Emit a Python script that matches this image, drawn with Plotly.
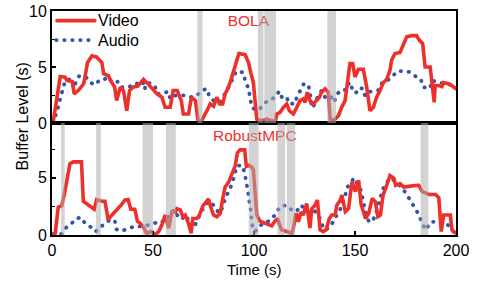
import plotly.graph_objects as go
from plotly.subplots import make_subplots

# ---------------- data ----------------
bola_video_t = [0.5, 4.1, 6.5, 7.4, 10, 11, 13, 15.7, 17.6, 19.8, 22, 24.7, 25.6, 28, 29, 31, 32, 33.8, 35.4, 37,
                38.4, 40, 42.5, 45.3, 47, 50, 52, 54.4, 56, 58.5, 60, 62, 64, 65, 67.6, 69, 71, 72.5, 73.4, 76.7,
                78.3, 80, 81.6, 83, 84.5, 85.7, 87.4, 89, 90.7, 92.5, 95.6, 97.3, 98.4, 99.7, 100.5, 101.4, 103.8,
                106.3, 108.8, 110.4, 111.3, 112.9, 114.6, 116.2, 117.5, 119.5, 121.2, 122.8, 124.4, 125.3, 126.4,
                127.7, 129.4, 130.7, 132.4, 133.5, 135.2, 136.8, 137.7, 139.3, 141.8, 143.4, 145.1, 146.2, 147.5,
                148.9, 150, 151.7, 154.1, 155.8, 157.4, 159.1, 160.7, 162.4, 164, 165.7, 167.3, 168.1, 169.8,
                172.3, 173.9, 175.6, 178.1, 180.5, 181.8, 183.5, 184.7, 187.2, 188, 189.2, 189.7, 191.3, 193,
                193.8, 196.3, 197.9, 200]
bola_video_v = [0, 4.15, 4.1, 3.8, 3.7, 2.6, 2.9, 3.5, 5.4, 6.0, 5.9, 5.4, 4.4, 4.2, 3.8, 3.2, 2.0, 3.2, 2.9, 1.1,
                2.9, 3.2, 3.3, 3.9, 3.6, 3.0, 2.6, 2.3, 1.4, 1.4, 2.9, 2.9, 2.0, 0.8, 0.8, 2.3, 2.0, 0, 0, 1.1,
                1.7, 1.5, 2.3, 1.7, 1.7, 2.6, 3.2, 4.1, 5.0, 6.2, 6.1, 5.4, 4.5, 3.6, 2.0, 0.35, 0.2,
                0.35, 0.2, 0.05, 0.8, 0.95, 1.4, 1.7, 1.1, 0.8, 1.4, 2.0, 2.15, 1.85, 2.75,
                2.0, 1.7, 2.0, 2.3, 2.75, 3.05, 2.75, 0.35, 0.2, 0.65, 1.4, 2.0, 3.5, 5.3,
                5.3, 4.1, 4.8, 4.8, 3.2, 1.1, 1.4, 2.3, 2.9, 3.6, 3.9, 4.7, 5.6, 6.2,
                6.3, 6.9, 7.7, 7.8, 7.8, 7.4, 7.1, 5.0, 5.0, 3.8, 1.85, 3.35, 3.35, 3.25,
                3.6, 3.5, 3.35, 3.05]

bola_audio_t = [0.5, 1.6, 2.8, 3.8, 5.3, 6.6, 9, 11, 12, 13.5, 16.8, 19, 21.4, 23.6, 25.9, 28, 29.7, 33, 34.6, 38,
                41.2, 43, 45, 45.8, 47, 48.6, 51, 52, 54.4, 56, 57.7, 58.5, 61, 63.5, 66, 68.4, 71.7, 74.2, 76.7,
                78, 80, 83.3, 85.2, 87, 88.7, 89.8, 91.6, 94.8, 95.6, 97.3, 97.8, 98.1, 98.9, 100.1, 102.2, 104.4,
                106.7, 110, 112.6, 113.8, 116.2, 117.1, 120.1, 121.2, 122.8, 124.8, 127, 127.7, 128.6, 130.2,
                131.4, 133.5, 135.2, 137.7, 139.8, 140.6, 143, 145.8, 147.2, 148.4, 150.3, 152.1, 154.1, 154.9,
                156, 159.1, 162, 163.5, 165.7, 168.6, 170.6, 173.4, 177.2, 180.1, 182.6, 183.7, 187.2, 188,
                190.5, 193, 196.3, 199.6]
bola_audio_v = [0, 0.5, 1.25, 2.0, 3.1, 3.8, 3.9, 3.1, 3.8, 4.2, 4.1, 3.6, 3.4, 3.85, 3.9, 4.1, 3.6, 3.7, 3.2, 3.2,
                3.55, 3.5, 3.7, 3.0, 3.6, 3.55, 3.3, 2.6, 2.65, 2.7, 2.8, 2.15, 2.45, 2.5, 2.45, 2.3, 2.45, 2.9, 3.05,
                2.3, 2.0, 1.85, 2.45, 3.05, 3.6, 4.2, 4.65, 4.5, 3.8, 3.05, 2.45, 1.85, 1.4, 1.25, 1.15, 1.55,
                2.0, 2.25, 2.85, 2.3, 2.35, 1.75, 1.7, 2.3, 2.9, 3.55, 3.3, 2.75, 1.35, 1.7,
                2.3, 2.9, 2.3, 2.45, 1.85, 2.45, 2.95, 2.95, 3.65, 3.15, 2.65, 3.15, 3.05, 2.45,
                2.75, 2.85, 2.95, 3.65, 3.75, 4.15, 4.6, 4.65, 4.55, 4.15, 3.9, 3.2, 3.1, 3.8,
                3.65, 3.55, 3.5, 3.15]

mpc_video_t = [0.5, 1.6, 3.1, 4.8, 6.1, 7.2, 8.9, 10.5, 14.6, 15.5, 18, 19.6, 20.9, 22.1, 24.6, 26.2, 27.8, 28.7,
               30.3, 32.8, 34.4, 36, 37.7, 39, 41, 42.3, 43.5, 45.1, 46.8, 49.3, 50.9, 52.8, 54.4, 56, 57.7, 59.3,
               61, 61.8, 63.5, 64.8, 66, 67.6, 68.9, 69.7, 71.7, 73, 74.7, 76.3, 77.5, 78.3, 80, 81.6, 83.3, 84.6,
               85.7, 87.4, 89, 90.7, 91.8, 93.1, 95.4, 96.2, 97.3, 98.9, 99.7, 100.5, 101.4, 103, 105.5, 107.1,
               108.8, 110.1, 111.7, 112.6, 113.7, 116.2, 118.7, 119.5, 120.8, 122, 123.2, 124.4, 126.1, 127.7,
               128.6, 130.2, 131.4, 132.7, 134.3, 135.7, 137.3, 138.5, 140.2, 141, 142.7, 143.5, 144.4, 145.2,
               146.8, 148.5, 150.2, 151.8, 153, 155.2, 156.8, 158.5, 160.1, 161.3, 162.6, 163.9, 165.1, 167.3,
               169.3, 170.1, 172.3, 174.2, 178.3, 181.6, 183.3, 186.6, 189.9, 191.5, 192.7, 193.9, 195.6, 197.2,
               198, 200]
mpc_video_v = [0, 0.15, 2.45, 2.55, 3.55, 4.7, 6.25, 6.4, 6.4, 2.95, 2.65, 2.45, 2.25, 3.1, 2.95, 2.95, 1.35, 1.55,
               1.9, 2.35, 2.65, 3.05, 3.1, 2.25, 2.25, 1.2, 1.05, 0.75, 0.15, 0.3, 0, 0.3, 0.9, 1.75, 0.6, 2.0,
               2.0, 2.3, 2.2, 1.6, 1.75, 1.0, 0.15, 1.45, 1.45, 1.75, 2.55, 2.85, 3.15, 2.6, 1.75, 1.6, 1.9, 3.25,
               4.2, 4.6, 5.4, 6.05, 7.2, 7.45, 7.45, 6.0, 6.1, 5.95, 5.7, 4.1, 1.75, 1.2, 1.0, 0.9,
               0.8, 1.15, 1.45, 0.9, 0.45, 0.3, 0.15, 0.6, 1.9, 1.15, 2.0, 1.75, 2.75, 0.6,
               2.3, 2.6, 3.05, 0.45, 0.3, 0.45, 1.45, 1.75, 1.75, 2.6, 3.05, 3.5, 2.6, 2.05,
               2.3, 4.65, 3.8, 4.8, 2.7, 1.45, 1.9, 3.2, 2.9, 1.6, 1.75, 3.5, 4.05, 5.2,
               4.95, 4.35, 4.5, 4.2, 4.3, 4.35, 3.8, 3.55, 3.55, 3.25, 0.3, 1.75, 1.75, 1.75,
               0.45, 0.15]

mpc_audio_t = [0.6, 4.8, 6.7, 9.4, 11.7, 14.2, 16.3, 18.8, 21.7, 23.7, 26.2, 28.7, 31.1, 31.9, 34.4, 37.7, 40.7,
               42.7, 45.1, 48.1, 50.9, 52, 54.4, 55.6, 57, 58.9, 61, 62.3, 64.3, 66, 67.6, 69.2, 70.9, 72.5, 73.9,
               75.8, 77.5, 79.1, 81.3, 82.4, 84.1, 85.2, 86.5, 87.9, 89.4, 90.3, 91.5, 94, 95.3, 96.1, 96.4, 97.3,
               97.8, 98.4, 98.9, 99.4, 100.5, 102.2, 104.7, 107.1, 108.8, 110.8, 112.9, 115.9, 118.7, 121.2,
               122.8, 124.8, 127, 129.4, 131.9, 133.5, 134.7, 136.9, 139, 141, 142.7, 144, 145.2, 146.3, 148,
               149.6, 151, 153, 154.3, 155.2, 156.8, 158.5, 160.1, 161.3, 162.3, 163.9, 165.9, 167.9, 170.1,
               172.3, 175.1, 177.6, 180.1, 181.7, 183.3, 185, 187.5, 190.8, 194.1, 196.5, 198.7, 200]
mpc_audio_v = [0.1, 0.1, 0.6, 0.95, 1.4, 1.55, 1.05, 0.75, 0.3, 0.7, 0.95, 1.35, 1.25, 0.5, 0.35, 0.55, 0.75,
               0.75, 0.75, 0.9, 1.05, 1.1, 1.1, 1.45, 1.45, 2.0, 2.2, 1.6, 1.4, 1.75, 1.3, 0.6, 0.9, 1.6, 2.05,
               2.6, 2.95, 2.75, 2.4, 1.9, 2.3, 2.9, 3.5, 3.9, 4.65, 5.2, 6.05, 6.1, 5.5, 4.8, 4.2, 3.5,
               2.75, 2.2, 1.15, 0.6, 0.3, 0.6, 1.1, 1.2, 1.45, 1.8, 2.5, 2.6, 2.2, 2.05,
               2.6, 2.4, 2.0, 2.2, 1.75, 1.1, 0.45, 0.6, 1.1, 1.75, 2.25, 3.05, 3.5, 4.2, 4.65,
               5.0, 4.5, 3.9, 2.75, 2.05, 1.2, 1.15, 1.75, 2.45, 3.15, 4.05, 4.65, 5.0, 4.65,
               4.3, 3.7, 2.95, 2.3, 1.75, 1.0, 0.45, 1.15, 1.15, 1.15, 0.8, 0.3, 0.3]

bola_stalls = [(72.0, 74.5), (101.9, 104.7), (105.1, 110.9), (136.3, 140.6)]
mpc_stalls = [(4.5, 6.3), (21.8, 24.2), (44.8, 50.0), (56.4, 61.3), (97.4, 102.3),
              (111.6, 115.4), (116.2, 120.4), (182.5, 186.3)]

panel_titles = ["BOLA", "RobustMPC"]
legend_names = ["Video", "Audio"]
x_ticks = [0, 50, 100, 150, 200]

# ---------------- style ----------------
RED = "#EE302B"
BLUE = "#3553A8"
FONT = "Liberation Sans, Arial, sans-serif"
BAND = "rgba(175,175,175,0.55)"
DOTS = "0.4px,7.6px"

fig = make_subplots(rows=2, cols=1, shared_xaxes=True, vertical_spacing=0)

series = [
    (1, bola_video_t, bola_video_v, bola_audio_t, bola_audio_v),
    (2, mpc_video_t, mpc_video_v, mpc_audio_t, mpc_audio_v),
]
for row, vt, vv, at, av in series:
    fig.add_trace(go.Scatter(x=at, y=av, mode="lines", name=legend_names[1],
                             line=dict(color=BLUE, width=3.8, dash=DOTS),
                             showlegend=False), row=row, col=1)
    fig.add_trace(go.Scatter(x=vt, y=vv, mode="lines", name=legend_names[0],
                             line=dict(color=RED, width=3.6),
                             showlegend=False), row=row, col=1)

# panel titles as text traces (so the stall bands lie over them)
fig.add_trace(go.Scatter(x=[97.2], y=[9.0], mode="text", text=[panel_titles[0]],
                         textfont=dict(color=RED, size=15.5, family=FONT),
                         showlegend=False, hoverinfo="skip"), row=1, col=1)
fig.add_trace(go.Scatter(x=[100.4], y=[8.6], mode="text", text=[panel_titles[1]],
                         textfont=dict(color=RED, size=15.5, family=FONT),
                         showlegend=False, hoverinfo="skip"), row=2, col=1)

for row, stalls in ((1, bola_stalls), (2, mpc_stalls)):
    for s0, s1 in stalls:
        fig.add_vrect(x0=s0, x1=s1, row=row, col=1, fillcolor=BAND, line_width=0, layer="above")

axis_common = dict(showline=True, linecolor="black", linewidth=2, mirror=True, automargin=False,
                   showgrid=False, zeroline=False, ticks="inside", ticklen=4, tickwidth=1.5,
                   tickcolor="black", tickfont=dict(family=FONT, size=16, color="black"))

fig.update_xaxes(**axis_common, range=[0, 200], tickvals=x_ticks)
fig.update_xaxes(ticks="", row=1, col=1)
fig.update_yaxes(**axis_common)
fig.update_yaxes(range=[0, 10], tickvals=[0, 5, 10],
                 minor=dict(tickvals=[2.5, 7.5], ticks="inside", ticklen=3, tickwidth=1.2, tickcolor="black"),
                 row=1, col=1)
fig.update_yaxes(range=[0, 9.8], tickvals=[0, 5],
                 minor=dict(tickvals=[2.5, 7.5], ticks="inside", ticklen=3, tickwidth=1.2, tickcolor="black"),
                 row=2, col=1)

# legend (drawn in paper coordinates, top-left of the upper panel)
fig.add_shape(type="line", xref="paper", yref="paper", x0=0.0124, x1=0.106, y0=0.957, y1=0.957,
              line=dict(color=RED, width=3.6))
fig.add_shape(type="line", xref="paper", yref="paper", x0=0.0105, x1=0.099, y0=0.870, y1=0.870,
              line=dict(color=BLUE, width=3.8, dash=DOTS))
for name, yy in zip(legend_names, (0.957, 0.870)):
    fig.add_annotation(text=name, xref="paper", yref="paper", x=0.108, y=yy, xanchor="left",
                       yanchor="middle", showarrow=False,
                       font=dict(family=FONT, size=16, color="black"))

fig.add_annotation(text="Buffer Level (s)", xref="paper", yref="paper", x=-0.074, y=0.53,
                   xanchor="center", yanchor="middle", textangle=-90, showarrow=False,
                   font=dict(family=FONT, size=16, color="black"))
fig.add_annotation(text="Time (s)", xref="paper", yref="paper", x=0.5, y=-0.155,
                   xanchor="center", yanchor="middle", showarrow=False,
                   font=dict(family=FONT, size=15, color="black"))

fig.update_layout(
    width=477, height=282,
    margin=dict(l=52, r=21, t=11, b=47, autoexpand=False),
    paper_bgcolor="white", plot_bgcolor="white",
    font=dict(family=FONT, color="black"),
    showlegend=False,
)

post = (
    "document.body.style.margin='0';"
    "var st=document.createElement('style');"
    "st.innerHTML='.js-line, .shapelayer path{stroke-linecap:round !important;}';"
    "document.head.appendChild(st);"
)
fig.write_html("out.html", config={"displayModeBar": False}, post_script=post)
